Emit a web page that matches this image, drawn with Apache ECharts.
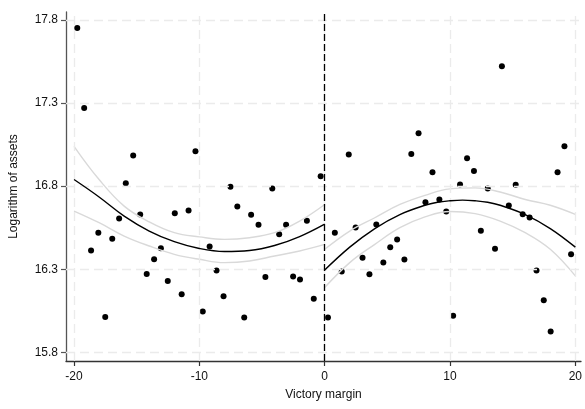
<!DOCTYPE html>
<html>
<head>
<meta charset="utf-8">
<script src="https://cdn.jsdelivr.net/npm/echarts@6/dist/echarts.min.js"></script>
<style>
  html, body { margin: 0; padding: 0; background: #fff; }
  #chart { width: 585px; height: 409px; }
</style>
</head>
<body>
<div id="chart"></div>
<script>
// Binned observations below the threshold (victory margin < 0)
const leftX = [-19.74, -19.19, -18.64, -18.06, -17.51, -16.95, -16.40, -15.87, -15.28, -14.72,
  -14.20, -13.61, -13.07, -12.52, -11.96, -11.41, -10.86, -10.31, -9.73, -9.18,
  -8.63, -8.07, -7.52, -6.97, -6.42, -5.87, -5.28, -4.73, -4.18, -3.63,
  -3.08, -2.52, -1.97, -1.42, -0.87, -0.32];
const leftY = [17.752, 17.270, 16.413, 16.520, 16.013, 16.484, 16.606, 16.817, 16.985, 16.630,
  16.271, 16.361, 16.427, 16.229, 16.637, 16.149, 16.654, 17.010, 16.046, 16.437,
  16.293, 16.137, 16.796, 16.678, 16.009, 16.628, 16.568, 16.253, 16.786, 16.510,
  16.568, 16.257, 16.239, 16.592, 16.123, 16.860];

// Binned observations above the threshold
const rightX = [0.26, 0.81, 1.36, 1.92, 2.47, 3.02, 3.57, 4.12, 4.68, 5.23,
  5.78, 6.36, 6.91, 7.49, 8.04, 8.60, 9.15, 9.70, 10.25, 10.80,
  11.36, 11.91, 12.46, 13.01, 13.59, 14.14, 14.69, 15.24, 15.80, 16.35,
  16.90, 17.48, 18.03, 18.58, 19.13, 19.66];
const rightY = [16.009, 16.520, 16.286, 16.990, 16.552, 16.370, 16.270, 16.570, 16.340, 16.433,
  16.479, 16.358, 16.994, 17.118, 16.703, 16.883, 16.720, 16.647, 16.021, 16.810,
  16.968, 16.892, 16.532, 16.786, 16.424, 17.522, 16.684, 16.808, 16.631, 16.612,
  16.292, 16.113, 15.925, 16.883, 17.040, 16.391];

// Quadratic fits with confidence bands, each side of the cutoff
const fitLeftX  = [-20, -18, -16, -14, -12, -10, -8, -6, -4, -2, 0];
const fitLeft   = [16.840, 16.735, 16.620, 16.530, 16.466, 16.425, 16.407, 16.413, 16.443, 16.497, 16.572];
const upperLeft = [17.040, 16.840, 16.680, 16.585, 16.520, 16.495, 16.480, 16.490, 16.520, 16.590, 16.690];
const lowerLeft = [16.650, 16.580, 16.500, 16.440, 16.390, 16.360, 16.340, 16.350, 16.380, 16.410, 16.450];

const fitRightX  = [0, 2, 4, 6, 8, 9, 10, 11, 12, 13, 14, 16, 18, 20];
const fitRight   = [16.295, 16.433, 16.545, 16.629, 16.685, 16.703, 16.712, 16.716, 16.712, 16.703, 16.685, 16.629, 16.545, 16.433];
const upperRightX = [0, 2, 4, 6, 8, 10, 12, 14, 16, 18, 20];
const upperRight = [16.420, 16.530, 16.610, 16.690, 16.745, 16.784, 16.790, 16.765, 16.720, 16.685, 16.630];
const lowerRight = [16.190, 16.340, 16.450, 16.550, 16.615, 16.648, 16.635, 16.590, 16.520, 16.420, 16.260];

// Axis ticks
const xTicks = [-20, -10, 0, 10, 20];
const yTicks = [15.8, 16.3, 16.8, 17.3, 17.8];
const cutoff = 0;

const pairs = (xs, ys) => xs.map((x, i) => [x, ys[i]]);
const FONT = 'Liberation Sans';

const gridStyle = { color: '#ebebeb', width: 1.3, type: [9, 5] };
const gridLines = [
  ...xTicks.map(v => ({ xAxis: v, lineStyle: gridStyle })),
  ...yTicks.map(v => ({ yAxis: v, lineStyle: gridStyle })),
  { xAxis: cutoff, lineStyle: { color: '#000', width: 1.3, type: [7, 3] } }
];

const bandLine = (name, xs, ys) => ({
  name, type: 'line', data: pairs(xs, ys), smooth: 0.4, showSymbol: false, silent: true,
  lineStyle: { color: '#d9d9d9', width: 1.4 }, z: 4
});
const fitLine = (name, xs, ys) => ({
  name, type: 'line', data: pairs(xs, ys), smooth: 0.4, showSymbol: false, silent: true,
  lineStyle: { color: '#000', width: 1.4 }, z: 5
});

const chart = echarts.init(document.getElementById('chart'), null, { renderer: 'canvas' });
chart.setOption({
  animation: false,
  backgroundColor: '#fff',
  textStyle: { fontFamily: FONT },
  grid: { left: 64, right: 0, top: 12, bottom: 48, containLabel: false },
  xAxis: {
    type: 'value', min: -20.64, max: 20.45,
    name: 'Victory margin', nameLocation: 'middle', nameGap: 28,
    nameTextStyle: { fontFamily: FONT, fontSize: 12, color: '#111' },
    axisLine: { show: true, onZero: false, lineStyle: { color: '#333', width: 1.3 } },
    axisTick: { show: true, length: 5, customValues: xTicks, lineStyle: { color: '#333', width: 1.2 } },
    axisLabel: { customValues: xTicks, margin: 10, fontFamily: FONT, fontSize: 12, color: '#111' },
    splitLine: { show: false }
  },
  yAxis: {
    type: 'value', min: 15.748, max: 17.848,
    name: 'Logarithm of assets', nameLocation: 'middle', nameGap: 46, nameRotate: 90,
    nameTextStyle: { fontFamily: FONT, fontSize: 12, color: '#111' },
    axisLine: { show: true, onZero: false, lineStyle: { color: '#555', width: 1.3 } },
    axisTick: { show: true, length: 5, customValues: yTicks, lineStyle: { color: '#555', width: 1.2 } },
    axisLabel: { customValues: yTicks, margin: 8, fontFamily: FONT, fontSize: 12, color: '#111',
      formatter: v => v.toFixed(1) },
    splitLine: { show: false }
  },
  series: [
    {
      name: 'grid', type: 'line', data: [], z: 1, silent: true,
      markLine: { silent: true, symbol: 'none', label: { show: false }, animation: false, data: gridLines }
    },
    {
      name: 'below', type: 'scatter', data: pairs(leftX, leftY), symbolSize: 6,
      itemStyle: { color: '#000', opacity: 1 }, z: 3
    },
    {
      name: 'above', type: 'scatter', data: pairs(rightX, rightY), symbolSize: 6,
      itemStyle: { color: '#000', opacity: 1 }, z: 3
    },
    bandLine('upperLeft', fitLeftX, upperLeft),
    bandLine('lowerLeft', fitLeftX, lowerLeft),
    bandLine('upperRight', upperRightX, upperRight),
    bandLine('lowerRight', upperRightX, lowerRight),
    fitLine('fitLeft', fitLeftX, fitLeft),
    fitLine('fitRight', fitRightX, fitRight)
  ]
});
</script>
</body>
</html>
